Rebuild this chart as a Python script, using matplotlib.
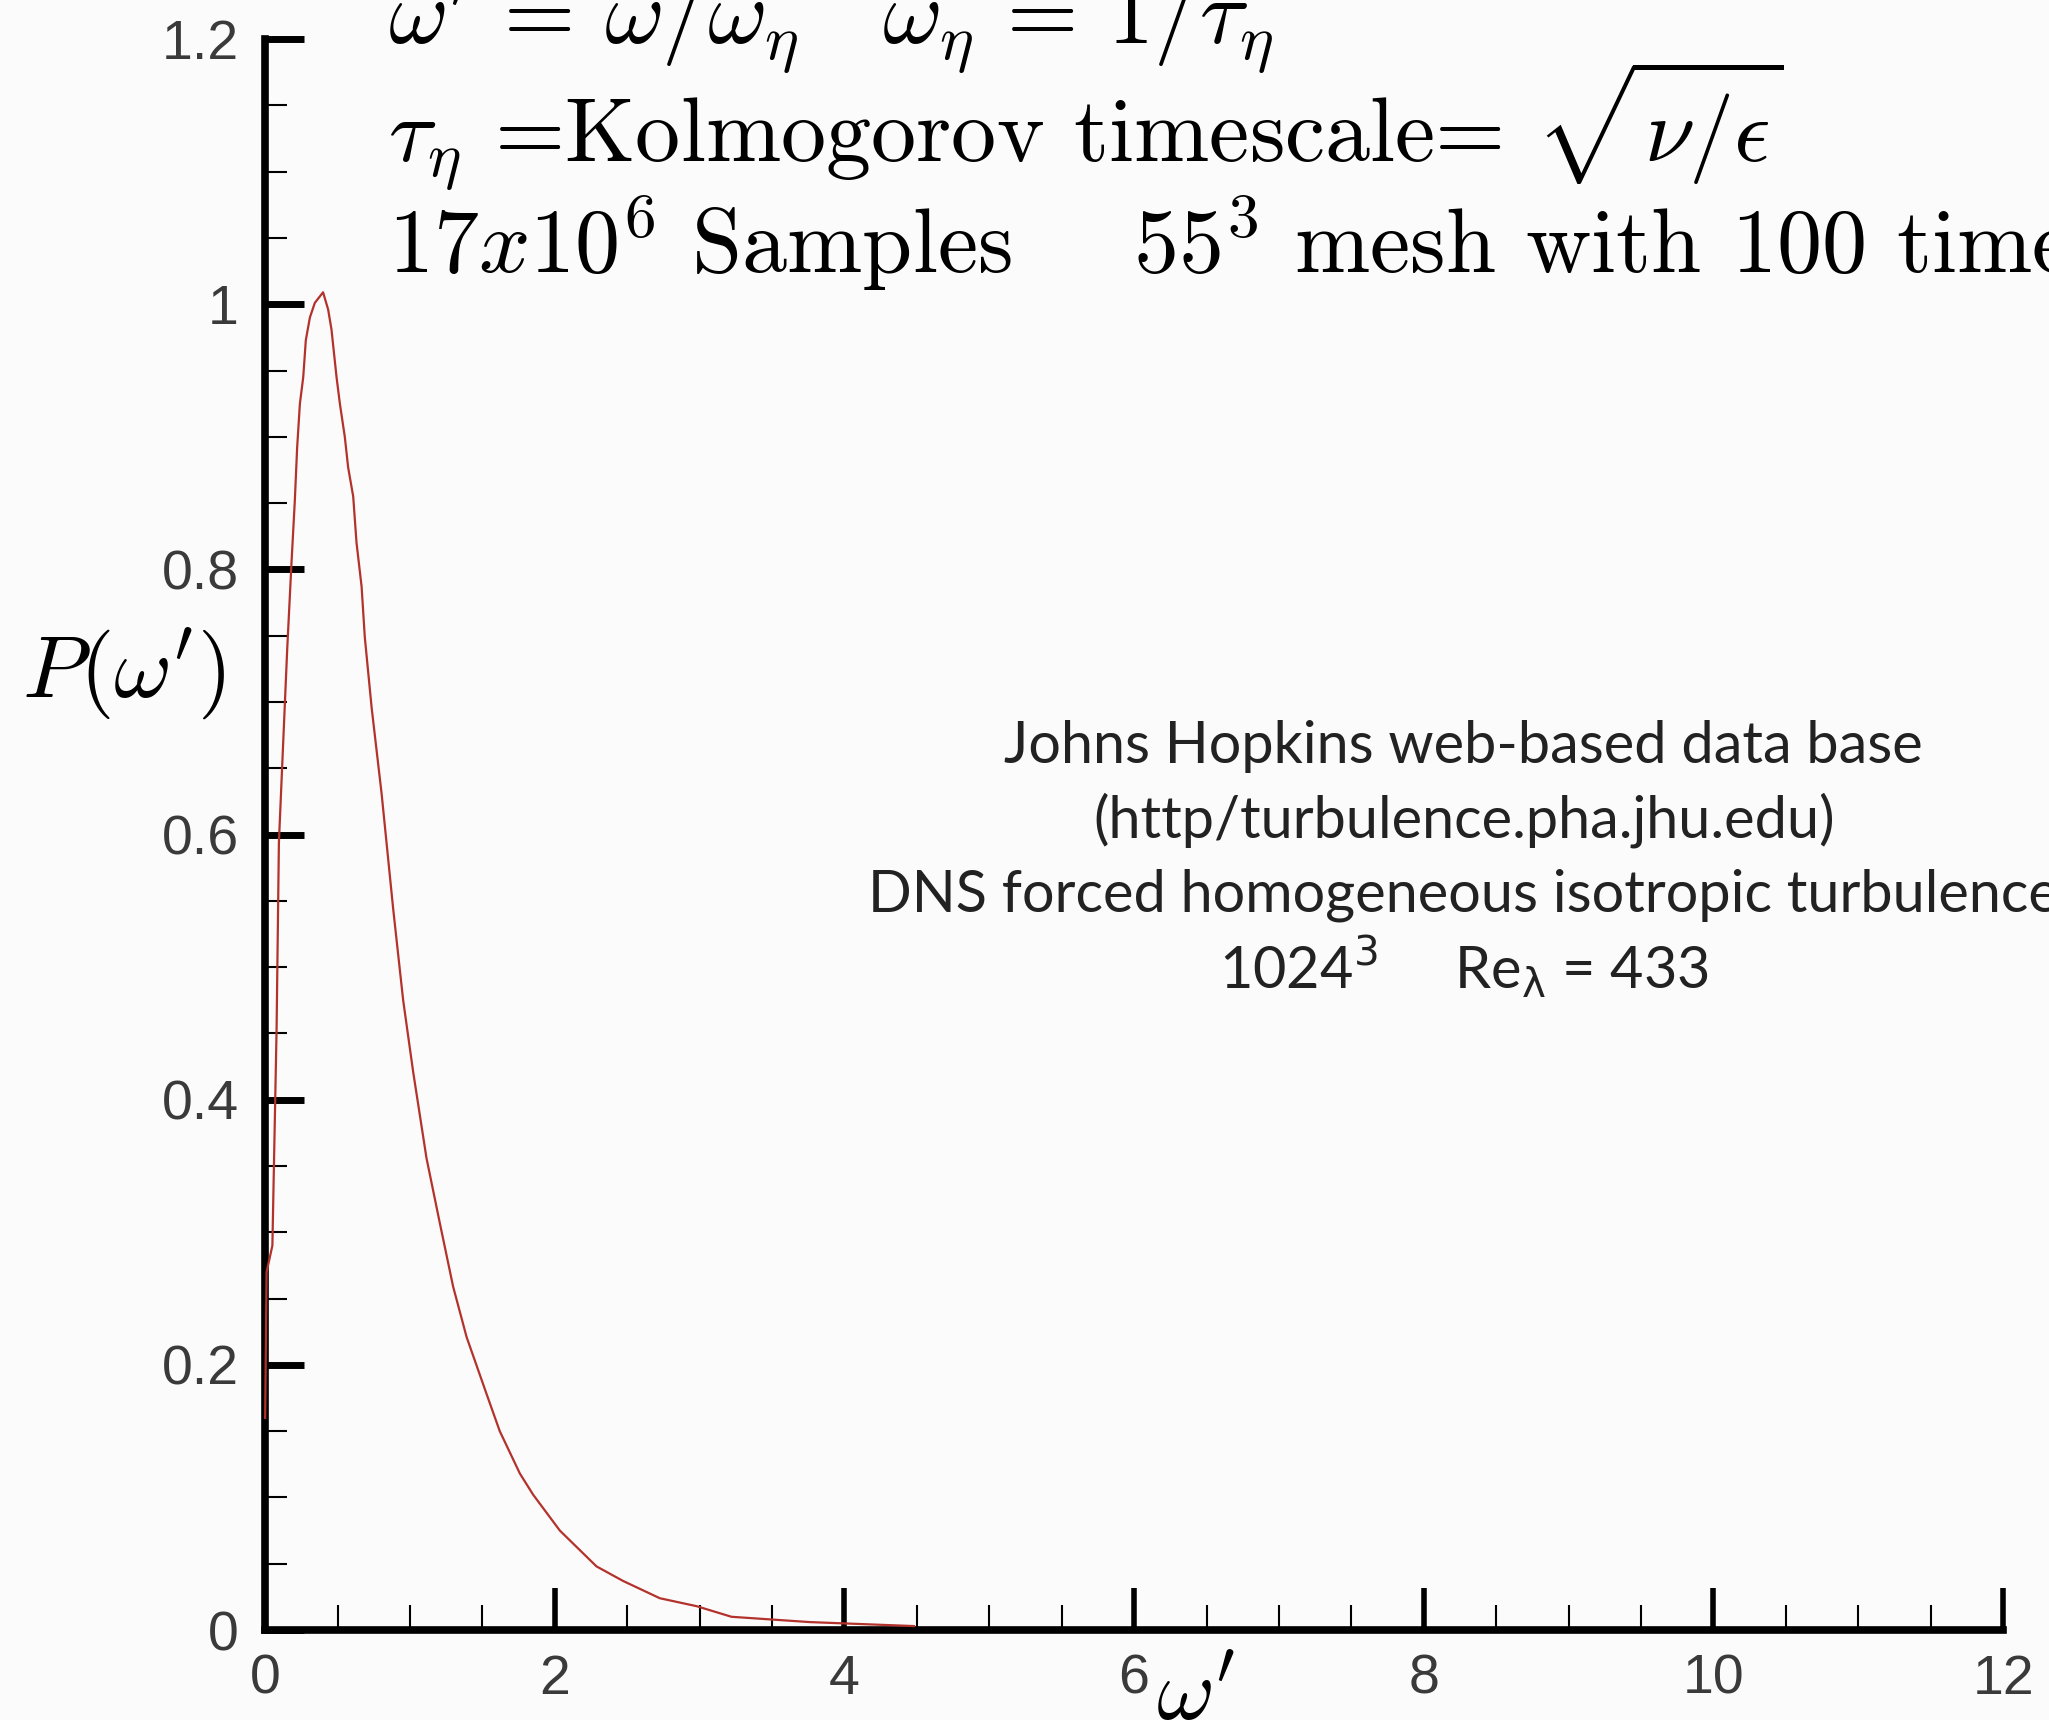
import matplotlib
matplotlib.use("Agg")
import matplotlib.pyplot as plt
from matplotlib.ticker import MultipleLocator

# P(omega')
omega = [0.0, 0.01, 0.05, 0.079, 0.095, 0.117, 0.152, 0.182, 0.205, 0.221,
         0.240, 0.263, 0.281, 0.309, 0.343, 0.400, 0.435, 0.458, 0.493, 0.516,
         0.550, 0.573, 0.608, 0.631, 0.666, 0.688, 0.735, 0.804, 0.884, 0.953,
         1.022, 1.114, 1.206, 1.298, 1.391, 1.529, 1.620, 1.759, 1.851, 2.035,
         2.288, 2.472, 2.725, 2.979, 3.22, 3.76, 4.48]
pdf = [0.16, 0.27, 0.29, 0.453, 0.594, 0.650, 0.739, 0.805, 0.852, 0.892,
       0.925, 0.945, 0.973, 0.990, 1.001, 1.009, 0.996, 0.981, 0.945, 0.925,
       0.900, 0.877, 0.855, 0.820, 0.787, 0.749, 0.696, 0.631, 0.544, 0.475,
       0.421, 0.356, 0.307, 0.259, 0.221, 0.178, 0.150, 0.118, 0.102, 0.075,
       0.048, 0.037, 0.024, 0.018, 0.010, 0.006, 0.003]

x_ticks = [0, 2, 4, 6, 8, 10, 12]
x_labels = ['0', '2', '4', '6', '8', '10', '12']
y_ticks = [0, 0.2, 0.4, 0.6, 0.8, 1.0, 1.2]
y_labels = ['0', '0.2', '0.4', '0.6', '0.8', '1', '1.2']

header_lines = [
    r"$\omega^{\prime} \,=\, \omega/\omega_\eta \quad \omega_\eta \,=\, 1/\tau_\eta$",
    r"$\tau_\eta$ =Kolmogorov timescale= $\sqrt{\nu/\epsilon}$",
    r"$17x10^6$ Samples    $55^3$ mesh with 100 time",
]
header_sizes = [66, 65, 65]
source_lines = [
    "Johns Hopkins web-based data base",
    "(http/turbulence.pha.jhu.edu)",
    "DNS forced homogeneous isotropic turbulence",
    r"1024$^{3}$     Re$_{\mathrm{\lambda}}$ = 433",
]

fig = plt.figure(figsize=(20.49, 17.2), dpi=100, facecolor='#fbfbfb')
ax = fig.add_axes([0.1294, 0.0523, 0.8482, 0.925])
ax.set_facecolor('none')

ax.plot(omega, pdf, color='#b3322c', lw=1.6, zorder=3, clip_on=False)

ax.set_xlim(0, 12)
ax.set_ylim(0, 1.2)
for side in ['top', 'right']:
    ax.spines[side].set_visible(False)
for side in ['left', 'bottom']:
    ax.spines[side].set_linewidth(5.5)
    ax.spines[side].set_capstyle('projecting')

ax.set_xticks(x_ticks, x_labels)
ax.set_yticks(y_ticks, y_labels)
ax.xaxis.set_minor_locator(MultipleLocator(0.5))
ax.yaxis.set_minor_locator(MultipleLocator(0.05))
ax.tick_params(which='both', direction='in', color='black')
ax.tick_params(axis='x', which='major', length=30, width=4, pad=17)
ax.tick_params(axis='y', which='major', length=28, width=5, pad=19)
ax.tick_params(axis='x', which='minor', length=18, width=1.5)
ax.tick_params(axis='y', which='minor', length=16, width=1.5)
for lab in ax.get_xticklabels() + ax.get_yticklabels():
    lab.set_fontfamily('Liberation Sans')
    lab.set_fontsize(40)
    lab.set_color('#3a3a3a')

# axis titles
fig.text(0.0605, 0.608, r"$P(\omega^{\prime})$", fontsize=64,
         ha='center', va='center', math_fontfamily='cm')
fig.text(0.5837, 0.0, r"$\omega^{\prime}$", fontsize=64,
         ha='center', va='baseline', math_fontfamily='cm')

# header in computer modern
header_y = [0.9744, 0.9052, 0.8413]
for txt, yy, fs in zip(header_lines, header_y, header_sizes):
    fig.text(0.1894, yy, txt, fontsize=fs, fontfamily='cmr10',
             math_fontfamily='cm', ha='left', va='baseline')

# data source block
source_y = [0.5564, 0.5128, 0.4698, 0.4256]
for txt, yy in zip(source_lines, source_y):
    fig.text(0.7144, yy, txt, fontsize=41.5, fontfamily='Lato',
             math_fontfamily='dejavusans', color='#222222',
             ha='center', va='baseline')

fig.savefig('out.png', dpi=100, facecolor=fig.get_facecolor())
